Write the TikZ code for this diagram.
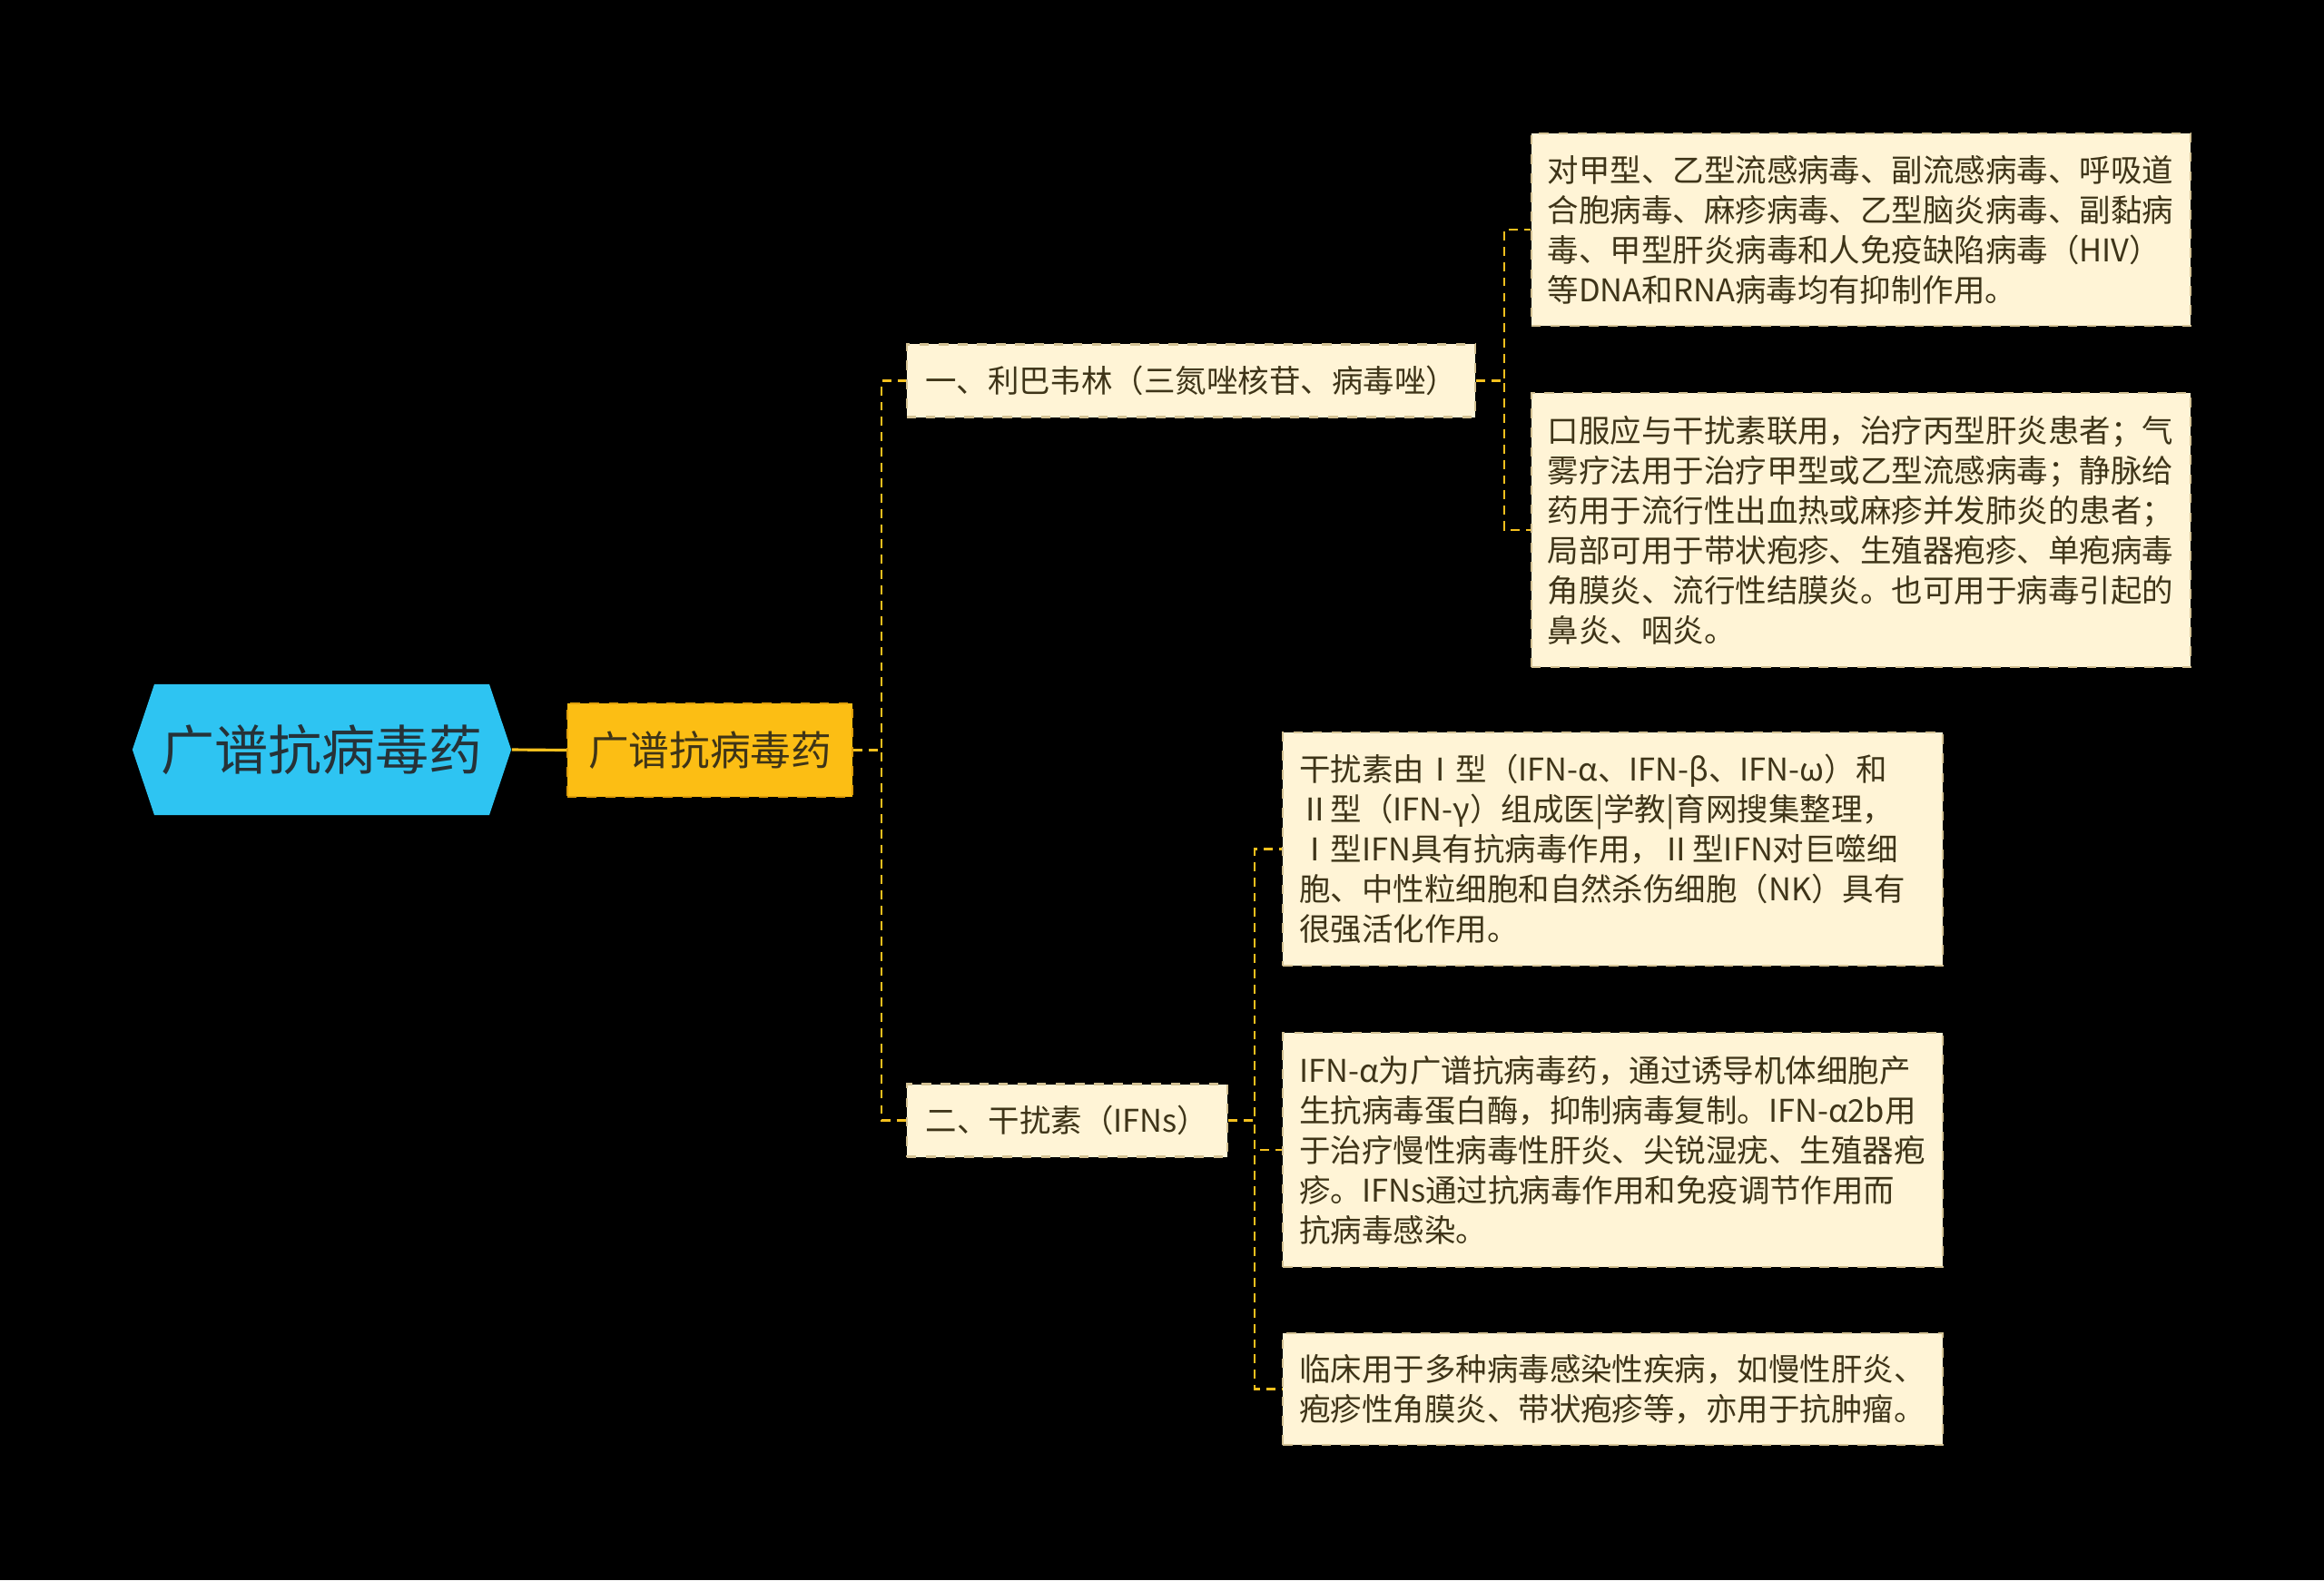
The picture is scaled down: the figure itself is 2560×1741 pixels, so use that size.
\documentclass[tikz,border=0pt]{standalone}
\usepackage{fontspec}
\setmainfont{Noto Sans CJK SC}
\usetikzlibrary{positioning,shapes.symbols}
\definecolor{bgblack}{RGB}{0,0,0}
\definecolor{rootblue}{RGB}{46,196,242}
\definecolor{mainyellow}{RGB}{252,190,20}
\definecolor{mainedge}{RGB}{222,158,10}
\definecolor{boxcream}{RGB}{255,244,214}
\definecolor{creamedge}{RGB}{212,194,148}
\definecolor{linkgold}{RGB}{245,192,30}
\definecolor{textdark}{RGB}{62,52,24}
\definecolor{rootink}{RGB}{38,50,56}

\begin{document}
\begin{tikzpicture}[
  x=0.01cm, y=-0.01cm,
  rootnode/.style={signal, signal to=east and west, signal pointer angle=143, fill=rootblue, text=rootink, font=\fontsize{16.8pt}{20pt}\selectfont, minimum width=4.17cm, minimum height=1.44cm, inner sep=0pt},
  mainbox/.style={rectangle, fill=mainyellow, draw=mainedge, dashed, line width=0.6pt, text=textdark, font=\fontsize{12.7pt}{15pt}\selectfont, minimum width=3.14cm, minimum height=1.03cm},
  subbox/.style={rectangle, fill=boxcream, draw=creamedge, dashed, line width=0.6pt, text=textdark, font=\fontsize{9.8pt}{12.5pt}\selectfont, minimum height=0.8cm},
  leafbox/.style={rectangle, fill=boxcream, draw=creamedge, dashed, line width=0.6pt, text=textdark, font=\fontsize{9.8pt}{12.5pt}\selectfont, text width=6.9cm, align=left, inner xsep=0.18cm},
  link/.style={draw=linkgold, line width=0.7pt, dash pattern=on 2.8pt off 2pt},
  rootlink/.style={draw=linkgold, line width=0.9pt}
]
\fill[bgblack] (0,0) rectangle (2560,1741);
\useasboundingbox (0,0) rectangle (2560,1741);

\node[rootnode] (root) at (354.5,826) {广谱抗病毒药};
\node[mainbox] (main) at (782,826.5) {广谱抗病毒药};

\node[subbox, minimum width=6.26cm] (riba) at (1312,419.5) {一、利巴韦林（三氮唑核苷、病毒唑）};
\node[subbox, minimum width=3.53cm] (ifn) at (1175.5,1234.5) {二、干扰素（IFNs）};

\node[leafbox, minimum height=2.12cm] (ribaRange) at (2050,253) {对甲型、乙型流感病毒、副流感病毒、呼吸道\\合胞病毒、麻疹病毒、乙型脑炎病毒、副黏病\\毒、甲型肝炎病毒和人免疫缺陷病毒（HIV）\\等DNA和RNA病毒均有抑制作用。};
\node[leafbox, minimum height=3.02cm] (ribaUse) at (2050,584) {口服应与干扰素联用，治疗丙型肝炎患者；气\\雾疗法用于治疗甲型或乙型流感病毒；静脉给\\药用于流行性出血热或麻疹并发肺炎的患者；\\局部可用于带状疱疹、生殖器疱疹、单疱病毒\\角膜炎、流行性结膜炎。也可用于病毒引起的\\鼻炎、咽炎。};

\node[leafbox, minimum height=2.57cm] (ifnType) at (1776.5,935.5) {干扰素由Ⅰ型（IFN-α、IFN-β、IFN-ω）和\\Ⅱ型（IFN-γ）组成医|学教|育网搜集整理，\\Ⅰ型IFN具有抗病毒作用，Ⅱ型IFN对巨噬细\\胞、中性粒细胞和自然杀伤细胞（NK）具有\\很强活化作用。};
\node[leafbox, minimum height=2.58cm] (ifnAlpha) at (1776.5,1267) {IFN-α为广谱抗病毒药，通过诱导机体细胞产\\生抗病毒蛋白酶，抑制病毒复制。IFN-α2b用\\于治疗慢性病毒性肝炎、尖锐湿疣、生殖器疱\\疹。IFNs通过抗病毒作用和免疫调节作用而\\抗病毒感染。};
\node[leafbox, minimum height=1.23cm] (ifnUse) at (1776.5,1530.5) {临床用于多种病毒感染性疾病，如慢性肝炎、\\疱疹性角膜炎、带状疱疹等，亦用于抗肿瘤。};

\draw[rootlink] (root.east) -- (main.west);
\draw[link] (main.east) -- ++(31,0) |- (riba.west);
\draw[link] (main.east) -- ++(31,0) |- (ifn.west);
\draw[link] (riba.east) -- ++(31,0) |- (ribaRange.west);
\draw[link] (riba.east) -- ++(31,0) |- (ribaUse.west);
\draw[link] (ifn.east) -- ++(29,0) |- (ifnType.west);
\draw[link] (ifn.east) -- ++(29,0) |- (ifnAlpha.west);
\draw[link] (ifn.east) -- ++(29,0) |- (ifnUse.west);
\end{tikzpicture}
\end{document}
